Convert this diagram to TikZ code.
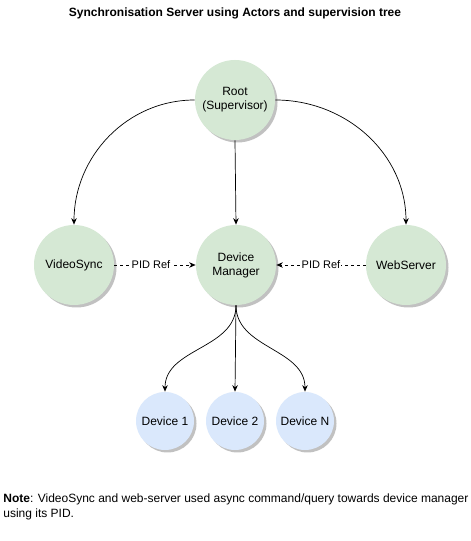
\documentclass[tikz,border=0pt]{standalone}
\usepackage{fontspec}
\setmainfont{Liberation Sans}
\usetikzlibrary{arrows.meta,shadows}

\definecolor{actgreen}{HTML}{D5E8D4}
\definecolor{devblue}{HTML}{DAE8FC}

\begin{document}
\begin{tikzpicture}[x=10pt,y=10pt,>={Stealth[length=6.5pt,width=5.5pt]},line width=0.7pt,
    actor/.style={circle,fill=actgreen,minimum size=80pt,inner sep=1pt,align=center,
      font=\fontsize{12}{14}\selectfont,
      drop shadow={shadow xshift=2.5pt,shadow yshift=-2.5pt,fill=black!40,opacity=0.6}},
    device/.style={actor,fill=devblue,minimum size=58pt},
    pidlink/.style={->,dashed,dash pattern=on 3pt off 3pt},
    pidlabel/.style={fill=white,inner sep=1pt,font=\fontsize{11}{13}\selectfont}]
    \useasboundingbox[fill=white] (0,0) rectangle (47.1,54.1);

    \node[font=\bfseries\fontsize{12}{14}\selectfont] (title) at (23.5,52.8)
      {Synchronisation Server using Actors and supervision tree};

    \node[actor] (root) at (23.5,44.1) {Root\\(Supervisor)};
    \node[actor] (vsync) at (7.4,27.6) {VideoSync};
    \node[actor] (devmgr) at (23.6,27.6) {Device\\Manager};
    \node[actor] (websrv) at (40.6,27.6) {WebServer};

    \node[device] (dev1) at (16.5,12.0) {Device 1};
    \node[device] (dev2) at (23.5,12.0) {Device 2};
    \node[device] (devn) at (30.5,12.0) {Device N};

    \draw[->] (root.west) to[out=180,in=90] (vsync.north);
    \draw[->] (root.east) to[out=0,in=90] (websrv.north);
    \draw[->] (root.south) -- (devmgr.north);

    \draw[pidlink] (vsync.east) -- node[pidlabel,pos=0.45] {PID Ref} (devmgr.west);
    \draw[pidlink] (websrv.west) -- node[pidlabel] {PID Ref} (devmgr.east);

    \draw[->] (devmgr.south) to[out=-90,in=90] (dev1.north);
    \draw[->] (devmgr.south) -- (dev2.north);
    \draw[->] (devmgr.south) to[out=-90,in=90] (devn.north);

    \node[anchor=north west,align=left,inner sep=0pt,font=\fontsize{12}{15.5}\selectfont] (note) at (0.3,4.8)
      {\textbf{Note}: VideoSync and web-server used async command/query towards device manager\\using its PID.};
  \end{tikzpicture}
\end{document}
